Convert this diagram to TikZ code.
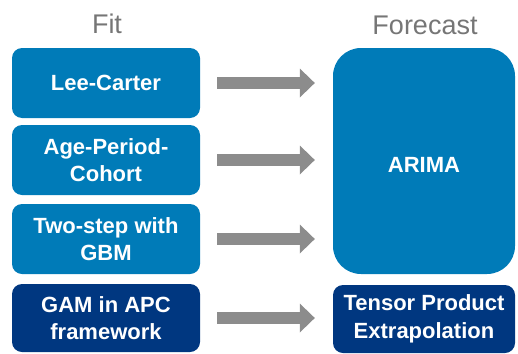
\documentclass[tikz,border=0pt]{standalone}
\usepackage{fontspec}
\setmainfont{Liberation Sans}
\usetikzlibrary{arrows.meta,calc,positioning}
\definecolor{FitBlue}{RGB}{0,123,184}
\definecolor{DeepBlue}{RGB}{0,55,128}
\definecolor{FlowGray}{RGB}{140,140,140}
\definecolor{TitleGray}{RGB}{118,118,118}
\tikzset{
  method/.style={rounded corners=10pt,fill=FitBlue,text=white,align=center,inner sep=0pt,
    font=\fontsize{22}{27.5}\selectfont\bfseries,minimum width=188pt,minimum height=70pt},
  heading/.style={text=TitleGray,font=\fontsize{27}{32}\selectfont},
  flow/.style={FlowGray,line width=12pt,-{Triangle[length=15pt,width=29pt,line width=0pt]},
    shorten <=17pt,shorten >=18pt}
}

\begin{document}
\begin{tikzpicture}[x=1pt,y=-1pt]
\useasboundingbox (0,0) rectangle (518,353);
\node[heading] (fit) at (107,24) {Fit};
\node[heading] (fcst) at (425,25) {Forecast};
\node[method] (lc) at (106,83) {Lee-Carter};
\node[method] (apc) at (106,160) {Age-Period-\\Cohort};
\node[method] (gbm) at (106,239) {Two-step with\\GBM};
\node[method,fill=DeepBlue,minimum height=68pt] (gam) at (106,318) {GAM in APC\\framework};
\node[method,rounded corners=28pt,minimum width=182pt,minimum height=226pt] (arima) at (424,161) {\raisebox{-4pt}[\height][\depth]{ARIMA}};
\node[method,fill=DeepBlue,minimum width=182pt,minimum height=68pt] (tp) at (424,319) {Tensor Product\\Extrapolation};
\draw[flow] (lc.east) -- (lc.east -| arima.west);
\draw[flow] (apc.east) -- (apc.east -| arima.west);
\draw[flow] (gbm.east) -- (gbm.east -| arima.west);
\draw[flow] (gam.east) -- (gam.east -| tp.west);
\end{tikzpicture}
\end{document}
